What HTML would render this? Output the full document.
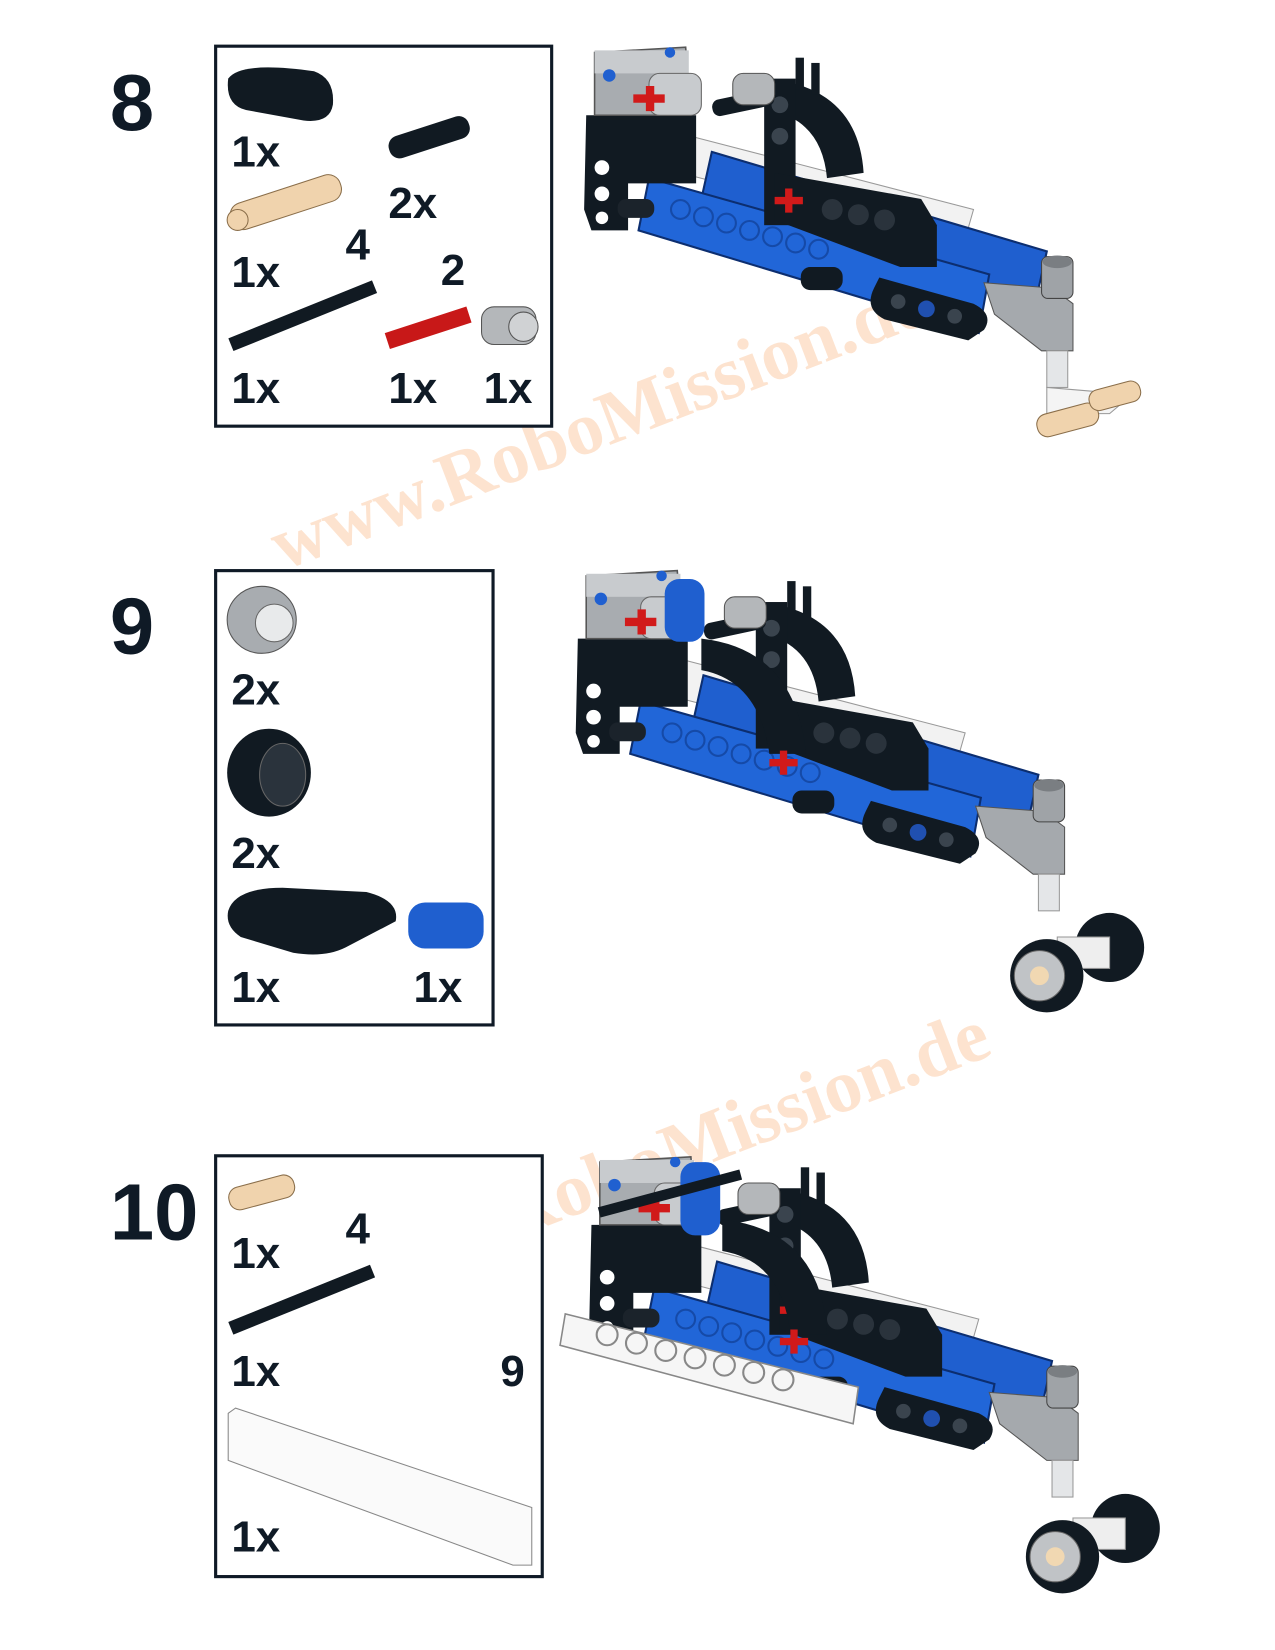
<!DOCTYPE html>
<html><head><meta charset="utf-8"><style>
html,body{margin:0;padding:0;background:#fff;width:1275px;height:1650px;overflow:hidden}
svg{display:block}
.n{font-family:"Liberation Sans",sans-serif;font-weight:bold;fill:#0f1a26}
.wm{font-family:"Liberation Serif",serif;font-weight:bold;fill:#fde3cf}
</style></head><body>
<svg width="1275" height="1650" viewBox="0 0 1218 1576" xmlns="http://www.w3.org/2000/svg">
<defs>
<g id="model">
  <!-- white back beam -->
  <path d="M660 130 L930 200 L920 235 L650 165 Z" fill="#f2f2f2" stroke="#999" stroke-width="1"/>
  <!-- blue beams -->
  <path d="M680 145 L1000 240 L990 285 L670 190 Z" fill="#1f5fcf" stroke="#0c2e70" stroke-width="2"/>
  <path d="M620 170 L945 262 L935 318 L610 220 Z" fill="#2166d8" stroke="#0c2e70" stroke-width="2"/>
  <g fill="none" stroke="#154aa8" stroke-width="2">
    <circle cx="650" cy="200" r="9"/><circle cx="672" cy="207" r="9"/><circle cx="694" cy="213" r="9"/><circle cx="716" cy="220" r="9"/><circle cx="738" cy="226" r="9"/><circle cx="760" cy="232" r="9"/><circle cx="782" cy="238" r="9"/>
  </g>
  <!-- black frame -->
  <path d="M560 110 L665 110 L665 175 L600 175 L600 220 L565 220 L558 200 Z" fill="#111a22"/>
  <circle cx="575" cy="160" r="7" fill="#fff"/><circle cx="575" cy="185" r="7" fill="#fff"/><circle cx="575" cy="208" r="6" fill="#fff"/>
  <rect x="590" y="190" width="35" height="18" rx="8" fill="#1b232b"/>
  <!-- gray top block -->
  <path d="M568 50 L655 45 L660 110 L568 110 Z" fill="#a8acb0" stroke="#555" stroke-width="1.5"/>
  <rect x="568" y="48" width="90" height="22" fill="#c8cbce"/>
  <circle cx="582" cy="72" r="6" fill="#2060d0"/><circle cx="640" cy="50" r="5" fill="#2060d0"/>
  <rect x="620" y="70" width="50" height="40" rx="10" fill="#c8cbce" stroke="#666"/>
  <path d="M605 90 h12 v-8 h8 v8 h10 v8 h-10 v8 h-8 v-8 h-12z" fill="#d11a1a"/>
  <!-- black arc -->
  <path d="M735 75 Q820 85 825 165 L790 170 Q785 115 735 105 Z" fill="#111a22"/>
  <rect x="730" y="75" width="30" height="140" fill="#111a22"/>
  <circle cx="745" cy="100" r="8" fill="#3a444e"/><circle cx="745" cy="130" r="8" fill="#3a444e"/>
  <rect x="680" y="90" width="60" height="16" rx="7" fill="#111a22" transform="rotate(-12 710 98)"/>
  <rect x="700" y="70" width="40" height="30" rx="10" fill="#b4b7ba" stroke="#555"/>
  <rect x="760" y="55" width="8" height="30" fill="#111a22"/><rect x="775" y="60" width="8" height="30" fill="#111a22"/>
  <!-- black beam overlay -->
  <path d="M740 165 L880 190 L895 215 L895 255 L860 255 L740 210 Z" fill="#111a22"/>
  <circle cx="795" cy="200" r="10" fill="#2a333c"/><circle cx="820" cy="205" r="10" fill="#2a333c"/><circle cx="845" cy="210" r="10" fill="#2a333c"/>
  <path d="M740 188 h10 v-8 h7 v8 h10 v7 h-10 v8 h-7 v-8 h-10z" fill="#d11a1a"/>
  <!-- small pin -->
  <rect x="765" y="255" width="40" height="22" rx="9" fill="#111a22"/>
  <!-- black short beam -->
  <path d="M840 265 L930 290 Q950 300 940 315 L925 325 L845 305 Q825 295 835 275 Z" fill="#111a22"/>
  <circle cx="858" cy="288" r="7" fill="#3a444e"/><circle cx="885" cy="295" r="8" fill="#2050b0"/><circle cx="912" cy="302" r="7" fill="#3a444e"/>
  <!-- gray arm -->
  <path d="M940 270 L1005 275 L1025 290 L1025 335 L995 335 L950 300 Z" fill="#a5a9ad" stroke="#555"/>
  <rect x="995" y="245" width="30" height="40" rx="6" fill="#9fa3a7" stroke="#444"/>
  <ellipse cx="1010" cy="250" rx="14" ry="6" fill="#7a7e82"/>
  <rect x="1000" y="335" width="20" height="35" fill="#e4e6e8" stroke="#999"/>
</g>
<g id="wheels">
  <circle cx="1060" cy="905" r="33" fill="#111a22"/>
  <rect x="1010" y="895" width="50" height="30" fill="#eee" stroke="#999"/>
  <circle cx="1000" cy="932" r="35" fill="#111a22"/>
  <circle cx="993" cy="932" r="24" fill="#c0c3c6" stroke="#666"/>
  <circle cx="993" cy="932" r="9" fill="#f1d8b2"/>
</g>
</defs>

<!-- watermarks -->
<text class="wm" x="270" y="545" font-size="72" transform="rotate(-21 270 545)">www.RoboMission.de</text>
<text class="wm" x="330" y="1245" font-size="72" transform="rotate(-21 330 1245)">www.RoboMission.de</text>

<!-- step numbers -->
<text class="n" x="105" y="124" font-size="76">8</text>
<text class="n" x="105" y="624" font-size="76">9</text>
<text class="n" x="105" y="1184" font-size="76">10</text>

<!-- STEP 8 box -->
<rect x="206" y="44" width="321" height="363" fill="#fff" stroke="#0f1a26" stroke-width="3"/>
<path d="M218 75 Q230 58 300 68 Q320 75 318 100 Q315 118 290 115 L235 105 Q215 100 218 75Z" fill="#111a22"/>
<text class="n" x="221" y="159" font-size="42">1x</text>
<rect x="370" y="120" width="80" height="22" rx="10" fill="#111a22" transform="rotate(-18 410 131)"/>
<text class="n" x="371" y="208" font-size="42">2x</text>
<rect x="218" y="180" width="110" height="26" rx="12" fill="#f0d3ad" stroke="#8a6e4a" transform="rotate(-18 273 193)"/>
<circle cx="227" cy="210" r="10" fill="#f0d3ad" stroke="#8a6e4a"/>
<text class="n" x="221" y="274" font-size="42">1x</text>
<text class="n" x="330" y="248" font-size="42">4</text>
<rect x="215" y="295" width="148" height="13" fill="#111a22" transform="rotate(-22 289 301)"/>
<text class="n" x="421" y="272" font-size="42">2</text>
<rect x="368" y="305" width="82" height="16" fill="#c81818" transform="rotate(-18 409 313)"/>
<rect x="460" y="293" width="52" height="36" rx="12" fill="#b4b7ba" stroke="#555"/>
<circle cx="500" cy="312" r="14" fill="#d0d2d4" stroke="#555"/>
<text class="n" x="221" y="385" font-size="42">1x</text>
<text class="n" x="371" y="385" font-size="42">1x</text>
<text class="n" x="462" y="385" font-size="42">1x</text>

<!-- STEP 8 model -->
<use href="#model"/>
<path d="M1000 370 L1060 375 L1080 378 L1060 395 L1000 395 Z" fill="#f4f4f4" stroke="#999"/>
<rect x="990" y="390" width="60" height="22" rx="10" fill="#f0d3ad" stroke="#8a6e4a" transform="rotate(-15 1020 401)"/>
<rect x="1040" y="368" width="50" height="20" rx="9" fill="#f0d3ad" stroke="#8a6e4a" transform="rotate(-15 1065 378)"/>

<!-- STEP 9 box -->
<rect x="206" y="545" width="265" height="434" fill="#fff" stroke="#0f1a26" stroke-width="3"/>
<ellipse cx="250" cy="592" rx="33" ry="32" fill="#a8acb0" stroke="#555"/>
<circle cx="262" cy="595" r="18" fill="#e8eaeb" stroke="#666"/>
<text class="n" x="221" y="673" font-size="42">2x</text>
<ellipse cx="257" cy="738" rx="40" ry="42" fill="#111a22"/>
<ellipse cx="270" cy="740" rx="22" ry="30" fill="#2a333c" stroke="#666"/>
<text class="n" x="221" y="829" font-size="42">2x</text>
<path d="M218 870 Q225 848 270 848 L350 852 Q382 860 378 880 L330 905 Q310 915 280 910 L230 895 Q215 885 218 870Z" fill="#111a22"/>
<rect x="390" y="862" width="72" height="44" rx="16" fill="#1f5fcf"/>
<text class="n" x="221" y="957" font-size="42">1x</text>
<text class="n" x="395" y="957" font-size="42">1x</text>

<!-- STEP 9 model -->
<g transform="translate(-8 500)"><use href="#model"/></g>
<rect x="635" y="553" width="38" height="60" rx="14" fill="#1f5fcf"/>
<path d="M670 610 Q760 620 770 720 L735 720 Q725 650 670 640Z" fill="#111a22"/>
<path d="M735 725 h10 v-8 h7 v8 h10 v7 h-10 v8 h-7 v-8 h-10z" fill="#d11a1a"/>
<use href="#wheels"/>

<!-- STEP 10 box -->
<rect x="206" y="1104" width="312" height="402" fill="#fff" stroke="#0f1a26" stroke-width="3"/>
<rect x="218" y="1128" width="64" height="22" rx="10" fill="#f0d3ad" stroke="#8a6e4a" transform="rotate(-15 250 1139)"/>
<text class="n" x="221" y="1211" font-size="42">1x</text>
<text class="n" x="330" y="1188" font-size="42">4</text>
<rect x="215" y="1235" width="146" height="13" fill="#111a22" transform="rotate(-22 288 1241)"/>
<text class="n" x="221" y="1324" font-size="42">1x</text>
<text class="n" x="478" y="1324" font-size="42">9</text>
<path d="M218 1350 L225 1345 L508 1440 L508 1495 L490 1495 L218 1395 Z" fill="#fafafa" stroke="#888"/>
<text class="n" x="221" y="1482" font-size="42">1x</text>

<!-- STEP 10 model -->
<g transform="translate(5 1060)"><use href="#model"/></g>
<path d="M540 1255 L820 1325 L815 1360 L535 1285 Z" fill="#f6f6f6" stroke="#888" stroke-width="1.5"/>
<g fill="none" stroke="#888" stroke-width="2">
<circle cx="580" cy="1275" r="10"/><circle cx="608" cy="1283" r="10"/><circle cx="636" cy="1290" r="10"/><circle cx="664" cy="1297" r="10"/><circle cx="692" cy="1304" r="10"/><circle cx="720" cy="1311" r="10"/><circle cx="748" cy="1318" r="10"/></g>
<rect x="650" y="1110" width="38" height="70" rx="14" fill="#1f5fcf"/>
<rect x="570" y="1135" width="140" height="10" fill="#111a22" transform="rotate(-15 640 1140)"/>
<path d="M690 1165 Q785 1175 790 1275 L755 1275 Q748 1205 690 1195Z" fill="#111a22"/>
<path d="M745 1278 h10 v-8 h7 v8 h10 v7 h-10 v8 h-7 v-8 h-10z" fill="#d11a1a"/>
<g transform="translate(15 555)"><use href="#wheels"/></g>
</svg>
</body></html>
